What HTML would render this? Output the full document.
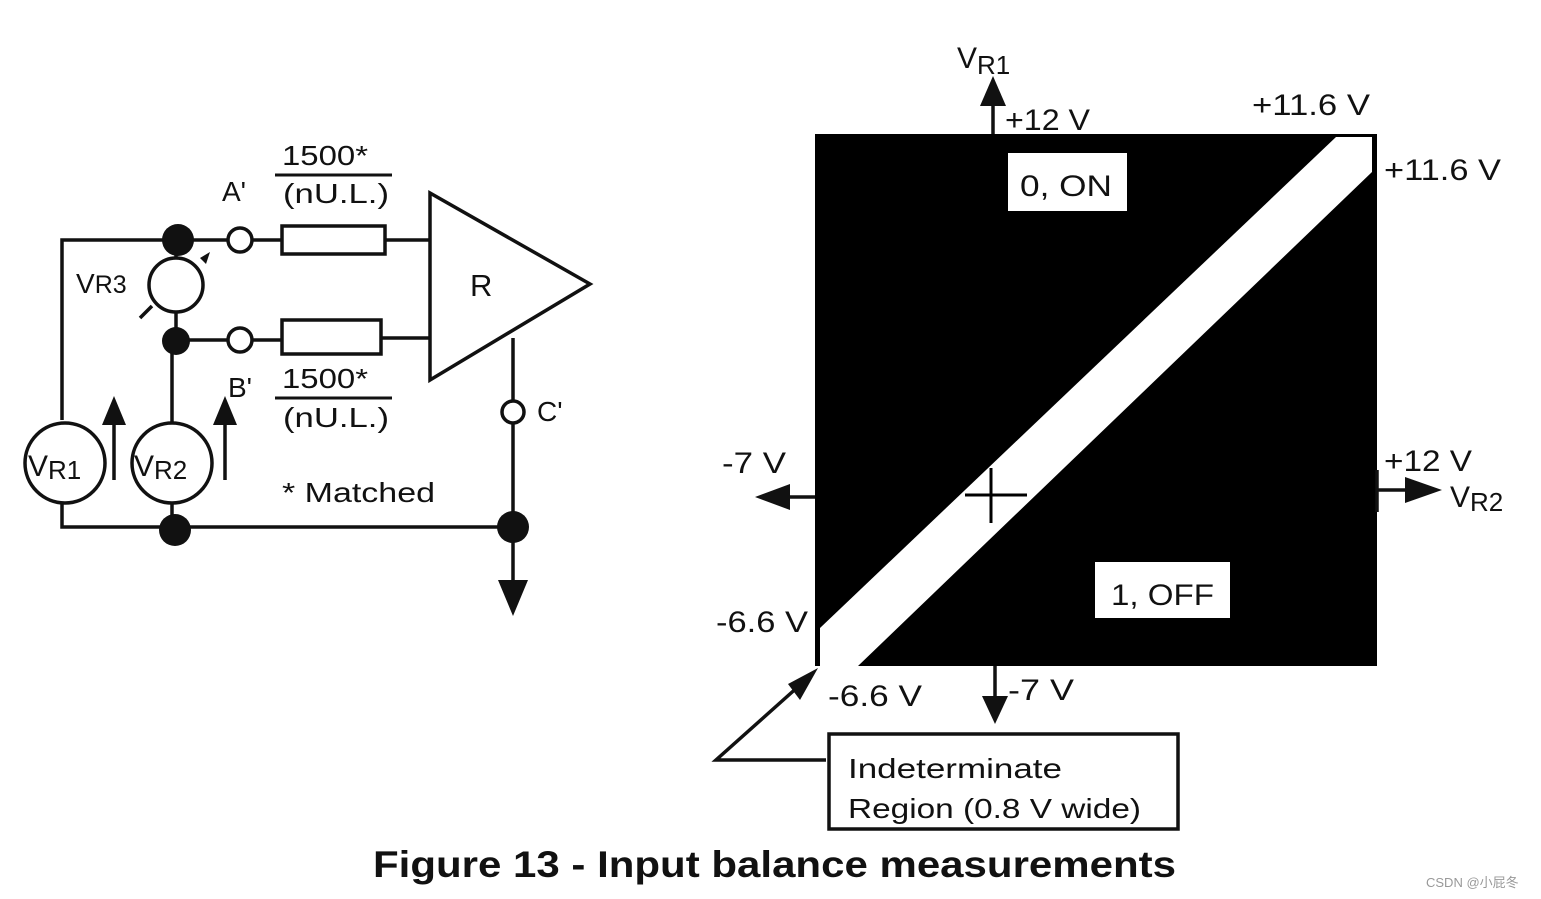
<!DOCTYPE html>
<html><head><meta charset="utf-8"><style>
html,body{margin:0;padding:0;background:#fff;}
svg{display:block;}
text{font-family:"Liberation Sans",Arial,sans-serif;fill:#111;}
</style></head><body>
<svg width="1541" height="899" viewBox="0 0 1541 899" xmlns="http://www.w3.org/2000/svg">
<g stroke="#111" stroke-width="3.5" fill="none">
  <polyline points="62,420 62,240 228,240"/>
  <line x1="252" y1="240" x2="282" y2="240"/>
  <line x1="385" y1="240" x2="430" y2="240"/>
  <rect x="282" y="226" width="103" height="28" fill="#fff"/>
  <circle cx="240" cy="240" r="12" fill="#fff"/>
  <line x1="176" y1="340" x2="228" y2="340"/>
  <line x1="252" y1="340" x2="282" y2="340"/>
  <line x1="381" y1="338" x2="430" y2="338"/>
  <rect x="282" y="320" width="99" height="34" fill="#fff"/>
  <circle cx="240" cy="340" r="12" fill="#fff"/>
  <polygon points="430,193 430,380 590,284" fill="#fff"/>
  <circle cx="176" cy="285" r="27" fill="#fff"/>
  <line x1="140" y1="318" x2="152" y2="306"/>
  <line x1="176" y1="258" x2="176" y2="240"/>
  <line x1="176" y1="312" x2="176" y2="340"/>
  <line x1="172" y1="340" x2="172" y2="423"/>
  <circle cx="65" cy="463" r="40" fill="#fff"/>
  <circle cx="172" cy="463" r="40" fill="#fff"/>
  <polyline points="62,503 62,527 513,527"/>
  <line x1="172" y1="503" x2="172" y2="527"/>
  <line x1="513" y1="338" x2="513" y2="400"/>
  <circle cx="513" cy="412" r="11" fill="#fff"/>
  <line x1="513" y1="423" x2="513" y2="585"/>
  <line x1="114" y1="480" x2="114" y2="420"/>
  <line x1="225" y1="480" x2="225" y2="420"/>
</g>
<polygon points="200,258 210,252 206,264" fill="#111"/>
<g fill="#111">
  <circle cx="178" cy="240" r="16"/>
  <circle cx="176" cy="341" r="14"/>
  <circle cx="175" cy="530" r="16"/>
  <circle cx="513" cy="527" r="16"/>
  <polygon points="498,580 528,580 513,616"/>
  <polygon points="102,425 126,425 114,396"/>
  <polygon points="213,425 237,425 225,396"/>
</g>
<g font-size="28">
  <text x="282" y="165" textLength="86" lengthAdjust="spacingAndGlyphs">1500*</text>
  <line x1="275" y1="175" x2="392" y2="175" stroke="#111" stroke-width="3"/>
  <text x="283" y="203" textLength="106" lengthAdjust="spacingAndGlyphs">(nU.L.)</text>
  <text x="222" y="201">A'</text>
  <text x="282" y="388" textLength="86" lengthAdjust="spacingAndGlyphs">1500*</text>
  <line x1="275" y1="398" x2="392" y2="398" stroke="#111" stroke-width="3"/>
  <text x="283" y="427" textLength="106" lengthAdjust="spacingAndGlyphs">(nU.L.)</text>
  <text x="228" y="397">B'</text>
  <text x="537" y="421">C'</text>
  <text x="470" y="296" font-size="31">R</text>
  <text x="76" y="293">V<tspan font-size="25">R3</tspan></text>
  <text x="28" y="476" font-size="30">V<tspan font-size="26" dy="3">R1</tspan></text>
  <text x="134" y="476" font-size="30">V<tspan font-size="26" dy="3">R2</tspan></text>
  <text x="282" y="502" textLength="153" lengthAdjust="spacingAndGlyphs">* Matched</text>
</g>
<rect x="815" y="134" width="561" height="532" fill="#000"/>
<polygon points="820,628 1336,137 1372,137 1372,172 858,666 820,666" fill="#fff"/>
<line x1="1375" y1="134" x2="1375" y2="666" stroke="#000" stroke-width="4"/>
<g stroke="#000" stroke-width="3">
  <line x1="991" y1="468" x2="991" y2="523"/>
  <line x1="965" y1="495" x2="1027" y2="495"/>
</g>
<g stroke="#111" stroke-width="3.5" fill="none">
  <line x1="815" y1="497" x2="785" y2="497"/>
  <line x1="993" y1="134" x2="993" y2="100"/>
  <line x1="995" y1="666" x2="995" y2="700"/>
  <line x1="1377" y1="490" x2="1410" y2="490"/>
  <polyline points="826,760 716,760 800,685"/>
  <rect x="829" y="734" width="349" height="95" fill="#fff"/>
  <line x1="1377" y1="470" x2="1377" y2="512"/>
</g>
<g fill="#111">
  <polygon points="755,497 790,484 790,510"/>
  <polygon points="980,106 1006,106 993,76"/>
  <polygon points="982,696 1008,696 995,724"/>
  <polygon points="1405,477 1405,503 1442,490"/>
  <polygon points="818,668 788,684 800,700"/>
</g>
<rect x="1008" y="153" width="119" height="58" fill="#fff"/>
<rect x="1095" y="562" width="135" height="56" fill="#fff"/>
<g font-size="30">
  <text x="1020" y="196" textLength="92" lengthAdjust="spacingAndGlyphs">0, ON</text>
  <text x="1111" y="605" textLength="103" lengthAdjust="spacingAndGlyphs">1, OFF</text>
  <text x="957" y="68">V<tspan font-size="26" dy="6">R1</tspan></text>
  <text x="1005" y="130" textLength="85" lengthAdjust="spacingAndGlyphs">+12 V</text>
  <text x="1252" y="115" textLength="118" lengthAdjust="spacingAndGlyphs">+11.6 V</text>
  <text x="1384" y="180" textLength="117" lengthAdjust="spacingAndGlyphs">+11.6 V</text>
  <text x="722" y="473" textLength="64" lengthAdjust="spacingAndGlyphs">-7 V</text>
  <text x="1384" y="471" textLength="88" lengthAdjust="spacingAndGlyphs">+12 V</text>
  <text x="1450" y="507">V<tspan font-size="26" dy="4">R2</tspan></text>
  <text x="716" y="632" textLength="92" lengthAdjust="spacingAndGlyphs">-6.6 V</text>
  <text x="828" y="706" textLength="94" lengthAdjust="spacingAndGlyphs">-6.6 V</text>
  <text x="1008" y="700" textLength="66" lengthAdjust="spacingAndGlyphs">-7 V</text>
  <text x="848" y="778" font-size="28" textLength="214" lengthAdjust="spacingAndGlyphs">Indeterminate</text>
  <text x="848" y="818" font-size="28" textLength="293" lengthAdjust="spacingAndGlyphs">Region (0.8 V wide)</text>
</g>
<text x="373" y="877" font-size="37" font-weight="bold" textLength="803" lengthAdjust="spacingAndGlyphs">Figure 13 - Input balance measurements</text>
<text x="1426" y="887" font-size="13" style="fill:#999;font-family:'Liberation Sans','Noto Sans CJK SC',sans-serif">CSDN @小屁冬</text>
</svg>
</body></html>
